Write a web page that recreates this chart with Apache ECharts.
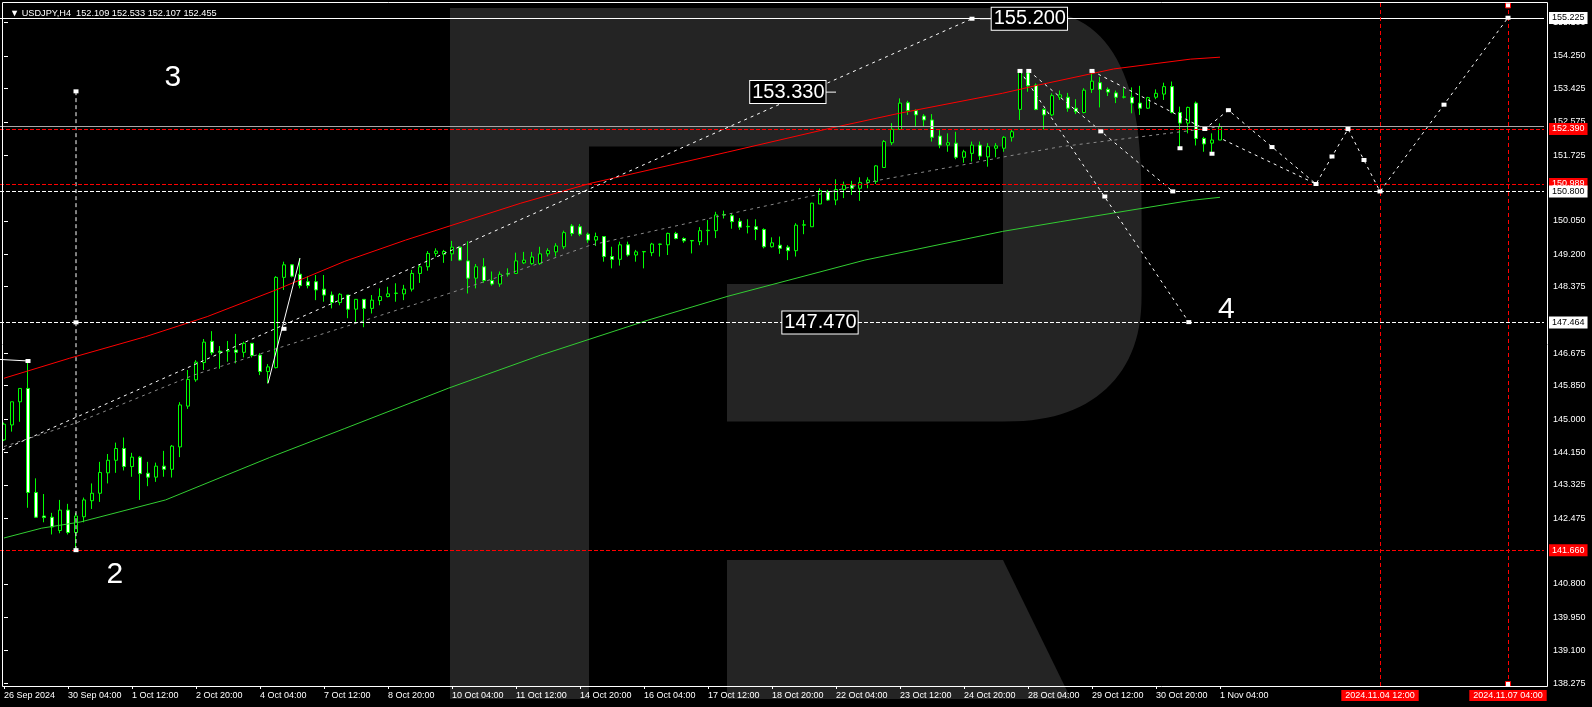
<!DOCTYPE html>
<html><head><meta charset="utf-8">
<script src="https://cdn.jsdelivr.net/npm/echarts@6/dist/echarts.min.js"></script>
<style>html,body{margin:0;padding:0;background:#000;}#c{width:1592px;height:707px;}</style>
</head><body><div id="c"></div>
<script>
const FONT = '"Liberation Sans", Arial, sans-serif';
const symbolName = 'USDJPY,H4';

// ---- candle data (H4), index 0 = 26 Sep 2024 20:00 ... 152 = 1 Nov 04:00
const opens = [144.47,144.85,145.44,145.78,143.13,142.53,142.50,142.16,142.68,142.11,
142.51,142.92,143.11,143.63,143.95,144.25,143.79,144.03,143.62,143.52,
143.80,143.72,144.29,145.33,146.00,146.44,146.98,146.73,146.73,146.76,
146.70,146.93,146.63,146.21,146.31,148.61,148.93,148.69,148.50,148.50,
148.31,148.16,147.97,148.16,147.80,148.05,147.82,148.02,148.12,148.20,
148.19,148.31,148.71,148.88,149.22,149.20,149.21,149.38,149.03,148.59,
148.88,148.53,148.44,148.69,148.71,148.98,148.96,148.96,149.21,149.26,
149.39,149.92,149.90,149.71,149.56,149.65,149.14,149.07,149.44,149.18,
149.26,149.24,149.45,149.44,149.73,149.60,149.54,149.52,149.80,149.80,
150.20,150.18,150.04,149.90,149.90,149.83,149.39,149.43,149.38,149.29,
149.94,149.90,150.48,150.79,150.58,150.85,150.96,150.88,151.03,151.05,
151.41,152.04,152.38,153.06,152.86,152.72,152.62,152.21,151.98,152.03,
151.67,151.77,151.98,151.68,151.90,151.90,152.18,152.89,153.82,153.51,
152.89,152.75,153.20,153.20,152.92,152.81,153.40,153.57,153.40,153.31,
153.20,153.20,153.05,152.92,153.20,153.28,153.47,152.81,152.54,153.05,
152.15,152.03,152.109];
const highs = [144.91,145.44,145.78,146.48,143.49,143.09,142.61,142.94,142.84,142.61,
143.00,143.36,143.91,144.11,144.40,144.53,144.14,144.06,143.91,143.89,
144.19,144.34,145.43,146.25,146.50,147.04,147.24,146.86,146.99,147.17,
146.97,146.93,146.68,146.40,148.64,149.01,148.95,149.10,148.64,148.67,
148.67,148.25,148.21,148.16,148.05,148.05,148.16,148.33,148.37,148.46,
148.42,148.80,148.93,149.28,149.35,149.31,149.54,149.39,149.53,148.95,
149.10,148.76,148.76,148.84,149.24,149.26,149.26,149.39,149.35,149.48,
149.80,149.97,149.97,149.75,149.75,149.66,149.39,149.52,149.52,149.31,
149.28,149.49,149.47,149.75,149.77,149.63,149.56,149.89,150.07,150.28,
150.31,150.24,150.12,150.09,150.09,149.86,149.63,149.65,149.43,149.99,
150.07,150.51,150.88,150.84,151.11,151.05,151.07,151.16,151.16,151.47,
152.11,152.54,153.17,153.11,152.89,152.77,152.77,152.36,152.28,152.32,
151.86,152.07,152.07,152.03,152.03,152.21,152.38,153.89,153.89,153.55,
152.92,153.30,153.37,153.31,153.15,153.43,153.87,153.72,153.45,153.37,
153.43,153.45,153.49,153.21,153.40,153.57,153.60,152.96,152.96,153.09,
152.19,152.28,152.533];
const lows = [144.44,144.68,144.93,142.74,142.48,142.37,142.06,142.09,142.06,141.66,
142.37,142.71,142.89,143.36,143.63,143.69,143.53,142.94,143.29,143.40,
143.53,143.51,144.03,145.26,145.95,146.25,146.63,146.28,146.46,146.42,
146.57,146.57,146.12,145.91,146.29,148.29,148.61,148.33,148.33,148.03,
147.99,147.82,147.90,147.57,147.48,147.34,147.69,147.90,148.10,147.99,
148.03,148.25,148.47,148.78,149.14,148.98,149.03,149.03,148.20,148.33,
148.47,148.40,148.37,148.63,148.71,148.95,148.93,148.93,149.14,149.14,
149.33,149.66,149.66,149.49,149.41,149.01,148.84,148.91,149.14,149.01,
148.84,149.15,149.14,149.18,149.58,149.49,149.22,149.43,149.43,149.61,
150.11,149.85,149.82,149.73,149.56,149.35,149.37,149.21,149.05,149.14,
149.71,149.90,150.48,150.56,150.45,150.63,150.71,150.56,150.88,150.99,
151.41,151.98,152.37,152.75,152.45,152.45,152.07,151.90,151.81,151.62,
151.53,151.56,151.60,151.43,151.67,151.81,152.07,152.62,153.34,152.87,
152.38,152.72,153.13,152.83,152.77,152.79,153.31,152.94,153.23,153.05,
153.17,152.79,152.75,152.90,153.15,153.13,152.79,151.90,152.28,151.97,
151.81,151.76,152.107];
const closes = [144.87,145.44,145.78,143.13,142.50,142.49,142.25,142.68,142.11,142.53,
142.94,143.11,143.64,143.95,144.25,143.79,144.03,143.61,143.52,143.80,
143.72,144.31,145.36,146.01,146.45,146.96,146.69,146.70,146.74,146.70,
146.93,146.62,146.21,146.33,148.61,148.93,148.64,148.40,148.40,148.29,
148.16,147.97,148.18,147.80,148.05,147.82,148.03,148.12,148.19,148.21,
148.31,148.71,148.88,149.22,149.28,149.27,149.38,149.05,148.59,148.88,
148.53,148.44,148.69,148.71,149.03,149.05,149.13,149.21,149.29,149.41,
149.75,149.73,149.71,149.56,149.65,149.14,149.07,149.44,149.18,149.26,
149.27,149.46,149.46,149.73,149.60,149.54,149.55,149.80,149.81,150.20,
150.21,150.03,149.89,149.91,149.83,149.39,149.49,149.35,149.29,149.94,
149.95,150.50,150.82,150.58,150.85,150.96,150.88,151.03,151.09,151.45,
152.07,152.38,153.05,152.86,152.75,152.62,152.18,151.98,152.04,151.67,
151.81,151.98,151.70,151.94,151.96,152.18,152.32,153.85,153.49,152.89,
152.75,153.24,153.26,152.92,152.83,153.38,153.61,153.40,153.33,153.20,
153.21,153.05,152.92,153.19,153.30,153.47,152.81,152.54,152.94,152.15,
152.01,152.11,152.455];

// ---- x-axis tick labels every 8 bars
const tickLabels = ['26 Sep 2024','30 Sep 04:00','1 Oct 12:00','2 Oct 20:00','4 Oct 04:00','7 Oct 12:00',
'8 Oct 20:00','10 Oct 04:00','11 Oct 12:00','14 Oct 20:00','16 Oct 04:00','17 Oct 12:00','18 Oct 20:00',
'22 Oct 04:00','23 Oct 12:00','24 Oct 20:00','28 Oct 04:00','29 Oct 12:00','30 Oct 20:00','1 Nov 04:00'];
// ---- y-axis tick labels
const yTickValues = [155.100,154.250,153.425,152.575,151.725,150.050,149.200,148.375,146.675,145.850,
145.000,144.150,143.325,142.475,140.800,139.950,139.100,138.275];

// ---- indicator lines [barIndex, price]
const redBand = [[0,146.04],[8.2,146.55],[17.7,147.10],[25.4,147.61],[34,148.29],[42.6,149.02],[50.2,149.56],
[64.6,150.50],[73.2,151.00],[90.4,151.80],[103.3,152.41],[111.9,152.79],[124.8,153.30],[129.3,153.51],
[138.7,153.92],[148.3,154.17],[152,154.22]];
const greenBand = [[0,141.97],[4.7,142.22],[9.6,142.38],[20.2,142.94],[33.2,144.02],[42.6,144.76],
[55.6,145.79],[67.1,146.63],[80.5,147.52],[90.5,148.13],[107.6,149.05],[124.8,149.78],[132.1,150.03],
[148.3,150.57],[152,150.65]];
const grayMid = [[0,144.30],[9,144.90],[23.7,146.12],[34,146.79],[45.2,147.52],[55.6,148.20],[67.1,148.98],
[73.3,149.43],[90.5,150.22],[103.3,150.79],[109.2,151.08],[120.5,151.50],[125,151.68],[132.1,151.94],
[148.3,152.35],[152,152.45]];

// ---- analyst objects
const channelLine = [[-0.2,144.21],[121,155.20]];
const waveDown1 = [[128.1,153.87],[146.1,150.80]];
const waveDown2 = [[127,153.87],[148.1,147.47]];
const forecastMain = [[136,153.87],[150.1,152.39],[153.05,152.87],[164,150.989],[168,152.39],[172,150.80],[188,155.225]];
const forecastAlt = [[152.4,152.12],[164,150.989]];
const timeLine = [[9,141.66],[9,153.35]];
const impulseLine = [[33,145.91],[37,149.10]];
const oldLine = [[-0.6,146.52],[3,146.48]];
const tick155 = [[122,155.20],[123.4,155.20]];
const tick153 = [[102.75,153.33],[104,153.33]];
const markerPts = [[3,146.48],[9,153.35],[9,147.464],[9,141.66],[121,155.20],[127,153.87],[128.1,153.87],
[136,153.87],[137.1,152.33],[137.6,150.67],[146.1,150.80],[148.1,147.47],[150.1,152.39],[147,151.90],
[151,151.76],[153.05,152.87],[158.5,151.93],[164,150.989],[166,151.69],[168,152.39],[170,151.60],
[172,150.80],[180,153.01],[188,155.225],[35,147.30]];
const vMarkerPts = [[188,155.54],[188,138.25]];
const levelBoxes = [
  {text:'155.200', x:123.4, y:155.20, pos:'right'},
  {text:'153.330', x:102.75, y:153.33, pos:'left'},
  {text:'147.470', x:102.0, y:147.46, pos:'inside'}
];
const waveLabels = [{text:'3', x:21.1, y:153.70},{text:'2', x:13.85, y:141.04},{text:'4', x:152.8, y:147.78}];
const hLevels = [
  {v:155.225, color:'#ffffff', type:'solid', box:'#ffffff', txt:'#000'},
  {v:152.455, color:'#a8a8a8', type:'solid', box:null},
  {v:152.390, color:'#ff0000', type:[4,2], box:'#ff0000', txt:'#fff'},
  {v:150.989, color:'#ff0000', type:[4,2], box:'#ff0000', txt:'#fff'},
  {v:150.800, color:'#ffffff', type:[4,2], box:'#ffffff', txt:'#000'},
  {v:147.464, color:'#ffffff', type:[4,2], box:'#ffffff', txt:'#000'},
  {v:141.660, color:'#ff0000', type:[4,2], box:'#ff0000', txt:'#fff'}
];
const vLevels = [172, 188];

// ---- categories: real H4 bars skip weekends, future bars continuous
const N_REAL = 153, N_TOTAL = 193;
const categories = [];
(function(){
  const p = n => String(n).padStart(2,'0');
  let t = Date.UTC(2024, 8, 26, 20);
  for (let i = 0; i < N_TOTAL; i++) {
    const d = new Date(t);
    categories.push(d.getUTCFullYear()+'.'+p(d.getUTCMonth()+1)+'.'+p(d.getUTCDate())+' '+p(d.getUTCHours())+':'+p(d.getUTCMinutes()));
    t += 4*3600e3;
    if (i < N_REAL - 1 && new Date(t).getUTCDay() === 6) t += 2*24*3600e3;
  }
})();

const yMax = 155.626, yMin = 138.199;
const LOGO = '#242424';

function superArc(cx, cy, rx, ry, from, to, e) {
  const pts = [];
  for (let k = 0; k <= 30; k++) {
    const t = (from + (to - from) * k / 30) * Math.PI / 180;
    const c = Math.cos(t), s = Math.sin(t);
    pts.push([cx + rx * Math.sign(c) * Math.pow(Math.abs(c), e), cy - ry * Math.sign(s) * Math.pow(Math.abs(s), e)]);
  }
  return pts;
}
const bowl = [[450,8]].concat(superArc(1003,225,138.6,217,90,0,2/3), superArc(1003,293,138.6,128.5,0,-90,0.85),
  [[727,421.5],[727,284],[1003,284],[1003,146.5],[589,146.5],[589,699],[450,699]]);
const leg = [[727,560],[1003,560],[1071,699],[727,699]];

function lineSeries(data, color, type, extra) {
  return Object.assign({type:'line', xAxisIndex:1, yAxisIndex:0, data, symbol:'none', silent:true, z:4,
    lineStyle:{color, width:1, type, opacity:1}}, extra || {});
}

const isTick = i => i % 8 === 0 && i < N_REAL;
const markLineData = hLevels.map(l => ({
  yAxis: l.v,
  lineStyle: {color: l.color, type: l.type, width: 1},
  label: l.box ? {show:true, position:'end', distance:5, formatter: l.v.toFixed(3), color:l.txt,
    backgroundColor:l.box, padding:[1,3,0,3], fontSize:9, lineHeight:11, fontFamily:FONT} : {show:false}
})).concat(vLevels.map(i => ({
  xAxis: categories[i],
  lineStyle: {color:'#ff0000', type:[4,3], width:1},
  label: {show:true, position:'start', distance:4, formatter: categories[i], color:'#fff',
    backgroundColor:'#ff0000', padding:[1,4,0,4], fontSize:9, lineHeight:10, fontFamily:FONT}
})));

const labelScatter = (data) => ({type:'scatter', xAxisIndex:1, symbolSize:1, silent:true, z:7,
  itemStyle:{color:'rgba(0,0,0,0)', opacity:1}, data});

const chart = echarts.init(document.getElementById('c'), null, {renderer:'canvas'});
chart.setOption({
  backgroundColor: '#000',
  animation: false,
  textStyle: {fontFamily: FONT},
  title: {
    text: '\u25BC ' + symbolName + '  ' + [opens[152], highs[152], lows[152], closes[152]].map(v => v.toFixed(3)).join(' '),
    left: 5, top: 4, textStyle: {color:'#fff', fontSize:9.2, fontWeight:'normal', fontFamily:FONT}
  },
  grid: {left: 0, top: 2, width: 1544, height: 684, containLabel: false},
  xAxis: [{
    type:'category', data: categories, boundaryGap: true,
    axisLine:{show:false},
    axisTick:{show:true, alignWithLabel:true, length:3, interval:(i)=>isTick(i), lineStyle:{color:'#fff'}},
    axisLabel:{show:true, interval:(i)=>isTick(i), formatter:(v,i)=>tickLabels[i/8] || '', color:'#fff',
      fontSize:9, align:'left', margin:5, fontFamily:FONT},
    splitLine:{show:false}
  },{
    type:'value', min:-0.5, max:N_TOTAL-0.5, show:false
  }],
  yAxis: [{
    type:'value', position:'right', min:yMin, max:yMax, offset:3, scale:true,
    axisLine:{show:false},
    axisTick:{show:true, length:4, customValues:yTickValues, lineStyle:{color:'#fff'}},
    axisLabel:{show:true, customValues:yTickValues, formatter:v=>Number(v).toFixed(3), color:'#fff',
      fontSize:9, margin:6, fontFamily:FONT},
    splitLine:{show:false}
  }],
  graphic: [
    {type:'polygon', shape:{points:bowl}, style:{fill:LOGO}, z:-1, silent:true},
    {type:'polygon', shape:{points:leg}, style:{fill:LOGO}, z:-1, silent:true},
    {type:'rect', shape:{x:2.5, y:2.5, width:1545, height:684}, style:{fill:'none', stroke:'#fff', lineWidth:1}, z:100, silent:true}
  ],
  series: [
    {
      type:'candlestick', name:symbolName, xAxisIndex:0, yAxisIndex:0, barWidth:4, z:3,
      data: opens.map((o,i) => [o, closes[i], lows[i], highs[i]]),
      itemStyle:{color:'#000000', color0:'#ffffff', borderColor:'#00ff00', borderColor0:'#00ff00', borderWidth:1},
      markLine:{symbol:['none','none'], silent:true, animation:false, data: markLineData}
    },
    lineSeries(redBand, '#ff0000', 'solid'),
    lineSeries(greenBand, '#32cd32', 'solid'),
    lineSeries(grayMid, '#8a8a8a', [3,4]),
    lineSeries(channelLine, '#ffffff', [3,4]),
    lineSeries(waveDown1, '#ffffff', [3,4]),
    lineSeries(waveDown2, '#ffffff', [3,4]),
    lineSeries(forecastMain, '#ffffff', [3,4]),
    lineSeries(forecastAlt, '#ffffff', [3,4]),
    lineSeries(timeLine, '#ffffff', [4,3]),
    lineSeries(impulseLine, '#ffffff', 'solid'),
    lineSeries(oldLine, '#ffffff', 'solid'),
    lineSeries(tick155, '#ffffff', 'solid'),
    lineSeries(tick153, '#ffffff', 'solid'),
    {type:'scatter', xAxisIndex:1, data:markerPts, symbol:'rect', symbolSize:[5,4], silent:true, z:6,
      itemStyle:{color:'#ffffff', opacity:1}},
    {type:'scatter', xAxisIndex:1, data:vMarkerPts, symbol:'rect', symbolSize:5, silent:true, z:6,
      itemStyle:{color:'#ffffff', borderColor:'#ff0000', borderWidth:1, opacity:1}},
    labelScatter(levelBoxes.map(b => ({value:[b.x, b.y], label:{show:true, position:b.pos, distance:0, formatter:b.text,
        color:'#ffffff', opacity:1, backgroundColor:'#000', borderColor:'#fff', borderWidth:1, padding:[1,1,0,2],
        fontSize:20, lineHeight:21, fontFamily:FONT}}))),
    labelScatter(waveLabels.map(b => ({value:[b.x, b.y], label:{show:true, position:'inside', formatter:b.text,
        color:'#ffffff', opacity:1, textBorderWidth:0, fontSize:30, fontFamily:FONT}})))
  ]
});
</script></body></html>
